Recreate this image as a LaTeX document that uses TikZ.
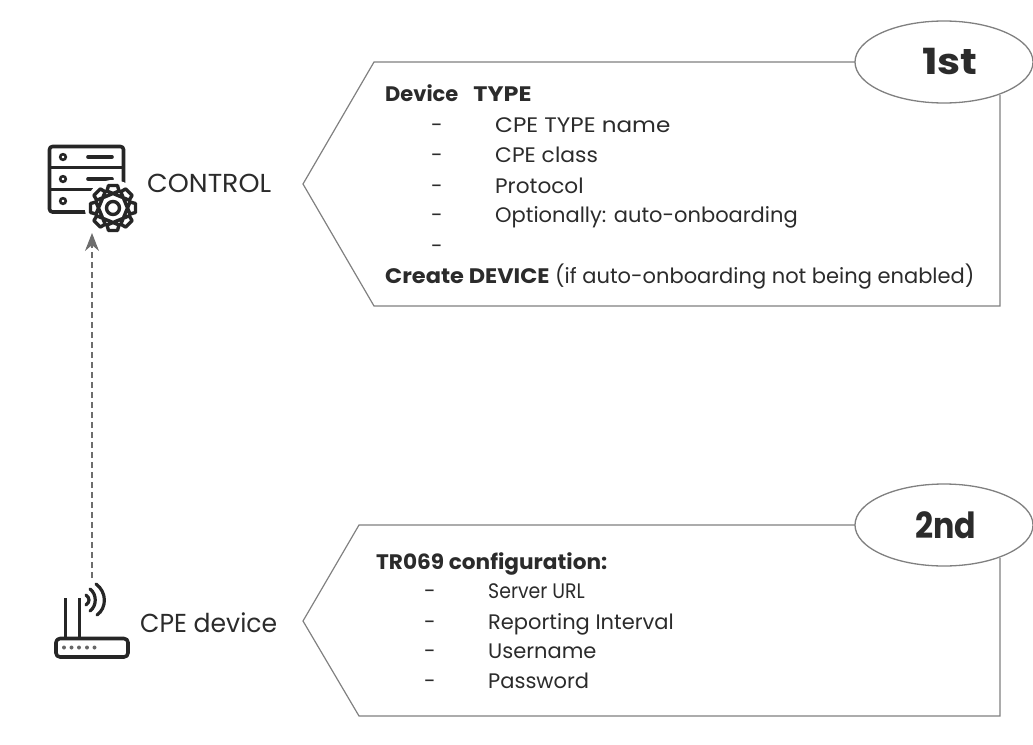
\documentclass[tikz,border=0pt]{standalone}
\usepackage{graphicx}
\usepackage{fontspec}
\setmainfont{Poppins}
\usetikzlibrary{shapes.geometric,arrows.meta}
\definecolor{ln}{HTML}{808080}
\definecolor{tx}{HTML}{2B2B2B}
\definecolor{ic}{HTML}{262626}
\newcommand{\wdx}[2]{\scalebox{#1}[1]{#2}}
\tikzset{
  outline/.style={draw=ln,line width=1.2pt,line join=miter},
  badge/.style={ellipse,draw=ln,line width=1.3pt,fill=white,minimum width=178pt,minimum height=82pt,inner sep=0pt,font=\fontsize{36}{36}\selectfont\bfseries,text=tx},
  txt/.style={anchor=base west,inner sep=0pt,font=\fontsize{21}{24}\selectfont,text=tx},
  lab/.style={anchor=base west,inner sep=0pt,font=\fontsize{26}{28}\selectfont,text=tx},
  iconln/.style={draw=ic,line width=3.6pt,line cap=round,line join=round},
  thinic/.style={draw=ic,line width=2.2pt,line cap=round},
  link/.style={draw=ln!85!black,line width=1.2pt,dash pattern=on 6pt off 4pt,-{Stealth[length=18pt,width=14pt,inset=6pt]}}
}
\begin{document}
\begin{tikzpicture}[x=1pt,y=-1pt]
\useasboundingbox (0,0) rectangle (1033,744);
\draw[outline] (855,62) -- (374,62) -- (303,184) -- (374,306) -- (1000,306) -- (1000,95);
\draw[outline] (855,525) -- (359,525) -- (303,621) -- (359,716) -- (1000,716) -- (1000,558);
\node[badge] (first) at (944,62) {\hspace*{12pt}\wdx{1.15}{1st}};
\node[badge] (second) at (944,525) {\hspace*{3pt}\wdx{0.88}{2nd}};
\node[txt] (t1) at (385,101) {\textbf{Device\hspace{15pt}\wdx{1.14}{TYPE}}};
\node[txt] (d1) at (431,132) {-};
\node[txt] (a1) at (495,132) {\wdx{1.1}{CPE TYPE name}};
\node[txt] (d2) at (431,162) {-};
\node[txt] (a2) at (495,162) {\wdx{1.04}{CPE class}};
\node[txt] (d3) at (431,193) {-};
\node[txt] (a3) at (495,193) {\wdx{1.03}{Protocol}};
\node[txt] (d4) at (431,222) {-};
\node[txt] (a4) at (495,222) {Optionally: auto-onboarding};
\node[txt] (d5) at (431,253) {-};
\node[txt] (t2) at (385,283) {\textbf{\wdx{1.07}{Create DEVICE}} (if auto-onboarding not being enabled)};
\node[txt] (t3) at (376,569) {\textbf{\wdx{1.03}{TR069 configuration:}}};
\node[txt] (e1) at (424,598) {-};
\node[txt] (b1) at (488,598) {\wdx{0.9}{Server URL}};
\node[txt] (e2) at (424,629) {-};
\node[txt] (b2) at (488,629) {Reporting Interval};
\node[txt] (e3) at (424,658) {-};
\node[txt] (b3) at (488,658) {Username};
\node[txt] (e4) at (424,688) {-};
\node[txt] (b4) at (488,688) {Password};
\node[lab] (control) at (147,192) {\wdx{1.03}{CONTROL}};
\node[lab] (cpe) at (140,632) {\wdx{0.965}{CPE device}};
% server icon
\draw[iconln,rounded corners=3pt] (49.5,146.5) rectangle (123.5,212);
\draw[iconln,line cap=butt] (49.5,167.5) -- (123.5,167.5) (49.5,189.5) -- (123.5,189.5);
\foreach \yy in {157,179,201} \draw[ic,line width=2.6pt] (63,\yy) circle (2.8pt);
\foreach \yy in {157,179} \draw[iconln,line width=3.6pt] (88,\yy) -- (112,\yy);
% gear
\begin{scope}[shift={(113,208)}]
  \fill[white] (0,0) circle (28pt);
  \draw[iconln,line width=3.4pt,fill=white]
    (-6,-17)--(-4.5,-22.5)--(4.5,-22.5)--(6,-17)
    --([rotate=45]-6,-17)--([rotate=45]-4.5,-22.5)--([rotate=45]4.5,-22.5)--([rotate=45]6,-17)
    --([rotate=90]-6,-17)--([rotate=90]-4.5,-22.5)--([rotate=90]4.5,-22.5)--([rotate=90]6,-17)
    --([rotate=135]-6,-17)--([rotate=135]-4.5,-22.5)--([rotate=135]4.5,-22.5)--([rotate=135]6,-17)
    --([rotate=180]-6,-17)--([rotate=180]-4.5,-22.5)--([rotate=180]4.5,-22.5)--([rotate=180]6,-17)
    --([rotate=225]-6,-17)--([rotate=225]-4.5,-22.5)--([rotate=225]4.5,-22.5)--([rotate=225]6,-17)
    --([rotate=270]-6,-17)--([rotate=270]-4.5,-22.5)--([rotate=270]4.5,-22.5)--([rotate=270]6,-17)
    --([rotate=315]-6,-17)--([rotate=315]-4.5,-22.5)--([rotate=315]4.5,-22.5)--([rotate=315]6,-17)
    --cycle;
  \draw[ic,line width=3.4pt] (0,0) circle (6.5pt);
\end{scope}
% router icon
\draw[iconln,rounded corners=4pt] (56,638.5) rectangle (128,657);
\draw[thinic,line width=3pt,line cap=butt] (65,598) -- (65,638) (79,598) -- (79,638);
\foreach \xx in {64,71.5,79,87,94.5} \fill[ic!70!white] (\xx,647.5) circle (2pt);
\draw[thinic,line width=3.2pt] (86,595) .. controls (90,598) and (90,602) .. (86,605);
\draw[thinic,line width=3.2pt] (90,589) .. controls (97,594) and (97,606) .. (90,611);
\draw[thinic,line width=3.2pt] (96,584) .. controls (107,592) and (107,608) .. (97,615);
% connector
\coordinate (router) at (92,578);
\coordinate (server) at (92,233);
\draw[link] (router) -- (server);
\end{tikzpicture}
\end{document}
